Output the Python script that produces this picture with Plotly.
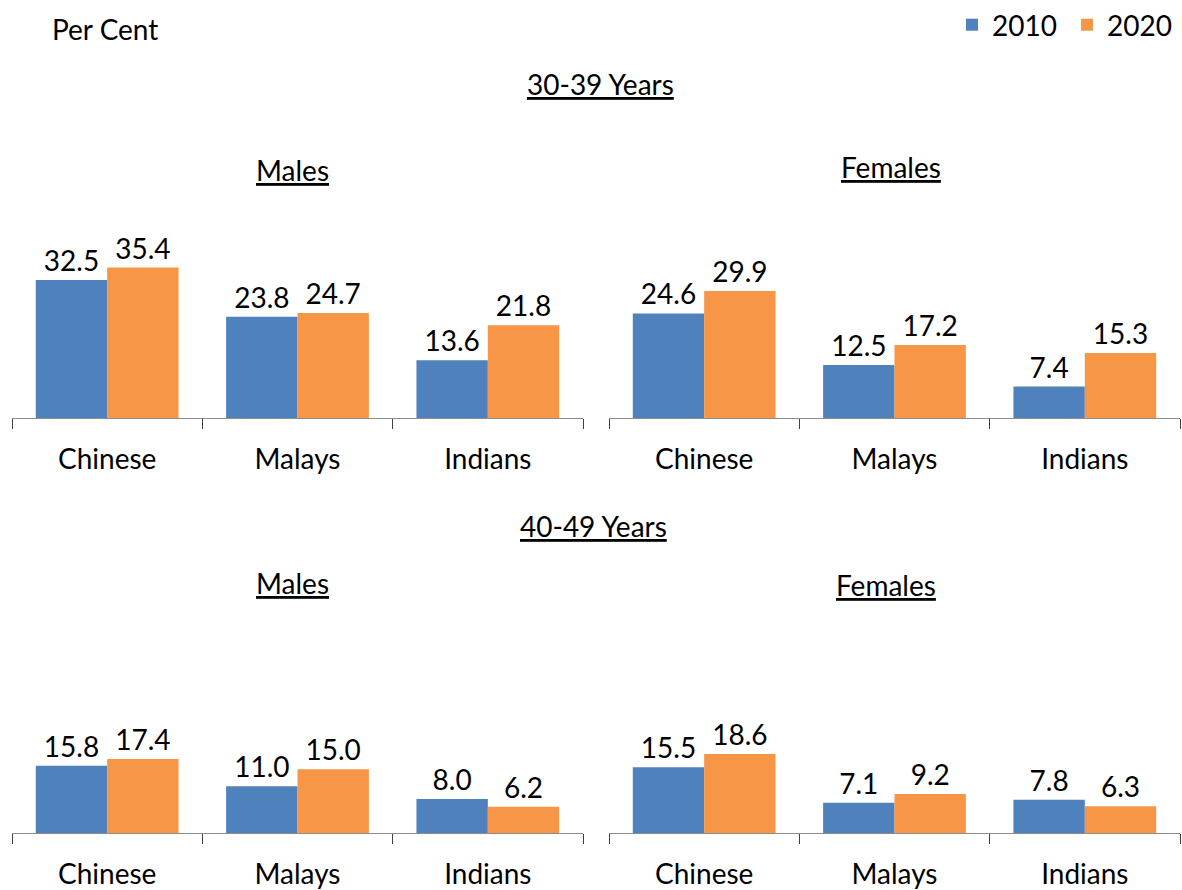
import plotly.graph_objects as go

categories = ["Chinese", "Malays", "Indians"]
years = ["2010", "2020"]

males_30_2010 = [32.5, 23.8, 13.6]
males_30_2020 = [35.4, 24.7, 21.8]
females_30_2010 = [24.6, 12.5, 7.4]
females_30_2020 = [29.9, 17.2, 15.3]
males_40_2010 = [15.8, 11.0, 8.0]
males_40_2020 = [17.4, 15.0, 6.2]
females_40_2010 = [15.5, 7.1, 7.8]
females_40_2020 = [18.6, 9.2, 6.3]

colors = {"2010": "#4F81BD", "2020": "#F79646"}
font = "Lato"

panels = [
    (males_30_2010, males_30_2020),
    (females_30_2010, females_30_2020),
    (males_40_2010, males_40_2020),
    (females_40_2010, females_40_2020),
]

W, H = 1182, 890
fig = go.Figure()

for i, (v2010, v2020) in enumerate(panels):
    ax = "" if i == 0 else str(i + 1)
    for year, vals in zip(years, (v2010, v2020)):
        fig.add_trace(go.Bar(
            x=categories, y=vals, name=year,
            xaxis="x" + ax, yaxis="y" + ax,
            marker=dict(color=colors[year], line=dict(width=0)),
            text=[f"{v:.1f}" for v in vals],
            textposition="outside",
            textfont=dict(family=font, size=28, color="black"),
            cliponaxis=False,
            legendgroup=year, showlegend=(i == 0),
        ))

# pixel geometry of the panels
cols = [(12, 583), (609, 1180)]
rows = [(200, 418), (615, 833)]
yrange = [0, 51.3]

for i in range(4):
    ax = "" if i == 0 else str(i + 1)
    c = cols[i % 2]
    r = rows[i // 2]
    fig.layout["xaxis" + ax] = dict(
        domain=[c[0] / W, c[1] / W], anchor="y" + ax,
        showline=True, linecolor="#8c8c8c", linewidth=1.2,
        ticks="outside", tickson="boundaries", ticklen=10, tickcolor="#404040",
        tickwidth=1.2, ticklabelstandoff=16,
        tickfont=dict(family=font, size=28, color="black"),
        showgrid=False, zeroline=False, fixedrange=True,
    )
    fig.layout["yaxis" + ax] = dict(
        domain=[1 - r[1] / H, 1 - r[0] / H], anchor="x" + ax,
        range=yrange, visible=False, showgrid=False, fixedrange=True,
    )

titles = [
    ("Per Cent", 50, 29, "left", False),
    ("30-39 Years", 600, 84, "center", True),
    ("Males", 292, 170, "center", True),
    ("Females", 891, 167, "center", True),
    ("40-49 Years", 593, 526, "center", True),
    ("Males", 292, 583, "center", True),
    ("Females", 886, 585, "center", True),
]
for text, x, y, anchor, underline in titles:
    fig.add_annotation(
        text=f"<u>{text}</u>" if underline else text,
        x=x / W, y=1 - y / H, xref="paper", yref="paper",
        xanchor=anchor, yanchor="middle", showarrow=False,
        font=dict(family=font, size=28, color="black"),
    )

fig.update_layout(
    width=W, height=H,
    margin=dict(l=0, r=0, t=0, b=0),
    paper_bgcolor="white", plot_bgcolor="white",
    barmode="group", bargap=0.25, bargroupgap=0,
    showlegend=True,
    legend=dict(
        orientation="h", x=1.0, xanchor="right", y=1, yanchor="top",
        font=dict(family=font, size=28, color="black"),
        bgcolor="rgba(0,0,0,0)", itemwidth=30,
        entrywidth=70, tracegroupgap=0,
    ),
    font=dict(family=font),
)

fig.write_html("out.html", config={"displayModeBar": False},
               post_script="document.body.style.margin='0';")
